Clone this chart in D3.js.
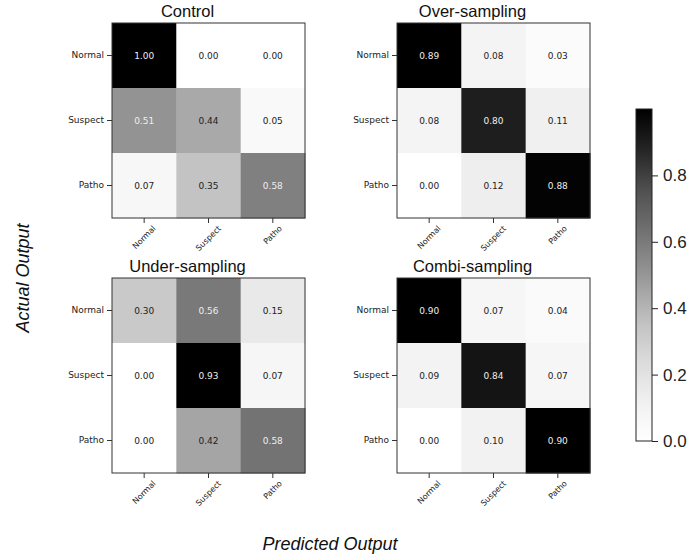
<!DOCTYPE html>
<html>
<head>
<meta charset="utf-8">
<script src="https://cdn.jsdelivr.net/npm/d3@7"></script>
<style>
  html, body { margin: 0; padding: 0; background: #fff; }
  svg { display: block; }
</style>
</head>
<body>
<svg id="chart" width="690" height="559"></svg>
<script>
// Class labels shared by all four confusion matrices
const classes = ["Normal", "Suspect", "Patho"];

// Normalised confusion matrices (rows = actual, columns = predicted)
const control = [
  [1.00, 0.00, 0.00],
  [0.51, 0.44, 0.05],
  [0.07, 0.35, 0.58]
];
const overSampling = [
  [0.89, 0.08, 0.03],
  [0.08, 0.80, 0.11],
  [0.00, 0.12, 0.88]
];
const underSampling = [
  [0.30, 0.56, 0.15],
  [0.00, 0.93, 0.07],
  [0.00, 0.42, 0.58]
];
const combiSampling = [
  [0.90, 0.07, 0.04],
  [0.09, 0.84, 0.07],
  [0.00, 0.10, 0.90]
];

const titles = ["Control", "Over-sampling", "Under-sampling", "Combi-sampling"];
const matrices = [control, overSampling, underSampling, combiSampling];
const colorbarTicks = [0.0, 0.2, 0.4, 0.6, 0.8];

// Greys colour ramp (ColorBrewer, linearly segmented)
const greys = ["#ffffff","#f0f0f0","#d9d9d9","#bdbdbd","#969696","#737373","#525252","#252525","#000000"];
const greyRamp = d3.scaleLinear()
  .domain(greys.map((_, i) => i / (greys.length - 1)))
  .range(greys)
  .interpolate(d3.interpolateRgb)
  .clamp(true);

const svg = d3.select("#chart");
svg.append("rect").attr("width", 690).attr("height", 559).attr("fill", "#fff");

// Panel layout
const panelX = [112, 397];
const panelY = [23, 278];
const panelW = 193, panelH = 195;

matrices.forEach((m, idx) => {
  const px = panelX[idx % 2], py = panelY[Math.floor(idx / 2)];
  const g = svg.append("g").attr("transform", `translate(${px},${py})`);
  const x = d3.scaleBand().domain(classes).range([0, panelW]);
  const y = d3.scaleBand().domain(classes).range([0, panelH]);
  const flat = m.flat();
  const vmin = d3.min(flat), vmax = d3.max(flat);
  const norm = d3.scaleLinear().domain([vmin, vmax]).range([0, 1]);
  const thresh = vmax / 2;

  const cells = [];
  m.forEach((row, i) => row.forEach((v, j) => cells.push({ r: classes[i], c: classes[j], v })));

  g.selectAll("rect.cell").data(cells).join("rect")
    .attr("class", "cell")
    .attr("x", d => x(d.c)).attr("y", d => y(d.r))
    .attr("width", x.bandwidth() + 0.5).attr("height", y.bandwidth() + 0.5)
    .attr("fill", d => greyRamp(norm(d.v)));

  g.selectAll("text.val").data(cells).join("text")
    .attr("class", "val")
    .attr("x", d => x(d.c) + x.bandwidth() / 2)
    .attr("y", d => y(d.r) + y.bandwidth() / 2)
    .attr("text-anchor", "middle").attr("dominant-baseline", "central")
    .attr("font-family", "DejaVu Sans").attr("font-size", 9)
    .attr("fill", d => d.v > thresh ? "#eeeeee" : "#222")
    .text(d => d.v.toFixed(2));

  g.append("rect").attr("width", panelW).attr("height", panelH)
    .attr("fill", "none").attr("stroke", "#333").attr("stroke-width", 1);

  // Row (actual) axis
  const yAxis = g.append("g").call(d3.axisLeft(y).tickSize(5).tickPadding(3));
  yAxis.select(".domain").remove();
  yAxis.selectAll("line").attr("stroke", "#333");
  yAxis.selectAll("text").attr("font-family", "DejaVu Sans").attr("font-size", 9).attr("fill", "#222");

  // Column (predicted) axis, labels rotated 45 degrees
  const xAxis = g.append("g").attr("transform", `translate(0,${panelH})`)
    .call(d3.axisBottom(x).tickSize(5));
  xAxis.select(".domain").remove();
  xAxis.selectAll("line").attr("stroke", "#333");
  xAxis.selectAll("text")
    .attr("font-family", "DejaVu Sans").attr("font-size", 8).attr("fill", "#222")
    .attr("text-anchor", "middle").attr("dominant-baseline", "central")
    .attr("y", 0).attr("dy", null)
    .each(function () {
      const w = this.getComputedTextLength(), h = 9;
      const off = 6 + (w + h) / (2 * Math.SQRT2);
      d3.select(this).attr("transform", `translate(0,${off}) rotate(-45)`);
    });

  g.append("text")
    .attr("x", panelW / 2 - 21).attr("y", -6)
    .attr("text-anchor", "middle")
    .attr("font-family", "Liberation Sans, Arial").attr("font-size", 16.5)
    .attr("fill", "#111")
    .text(titles[idx]);
});

// Colour bar
const cbX = 636, cbW = 16, cbTop = 109, cbBottom = 441;
const cbScale = d3.scaleLinear().domain([0, 1]).range([cbBottom, cbTop]);
const defs = svg.append("defs");
const grad = defs.append("linearGradient").attr("id", "cbgrad")
  .attr("x1", 0).attr("y1", 1).attr("x2", 0).attr("y2", 0);
d3.range(0, 1.0001, 0.05).forEach(t => {
  grad.append("stop").attr("offset", t).attr("stop-color", greyRamp(t));
});
svg.append("rect").attr("x", cbX).attr("y", cbTop)
  .attr("width", cbW).attr("height", cbBottom - cbTop)
  .attr("fill", "url(#cbgrad)").attr("stroke", "#222").attr("stroke-width", 1);
const cbAxis = svg.append("g").attr("transform", `translate(${cbX + cbW},0)`)
  .call(d3.axisRight(cbScale).tickValues(colorbarTicks).tickSize(6).tickPadding(5).tickFormat(d3.format(".1f")));
cbAxis.select(".domain").remove();
cbAxis.selectAll("line").attr("stroke", "#222");
cbAxis.selectAll("text").attr("font-family", "Liberation Sans, Arial").attr("font-size", 17).attr("fill", "#222");

// Shared axis titles
svg.append("text")
  .attr("transform", "translate(29,278) rotate(-90)")
  .attr("text-anchor", "middle")
  .attr("font-family", "Liberation Sans, Arial").attr("font-style", "italic").attr("font-size", 18)
  .attr("fill", "#111")
  .text("Actual Output");
svg.append("text")
  .attr("x", 330).attr("y", 550)
  .attr("text-anchor", "middle")
  .attr("font-family", "Liberation Sans, Arial").attr("font-style", "italic").attr("font-size", 18)
  .attr("fill", "#111")
  .text("Predicted Output");
</script>
</body>
</html>
